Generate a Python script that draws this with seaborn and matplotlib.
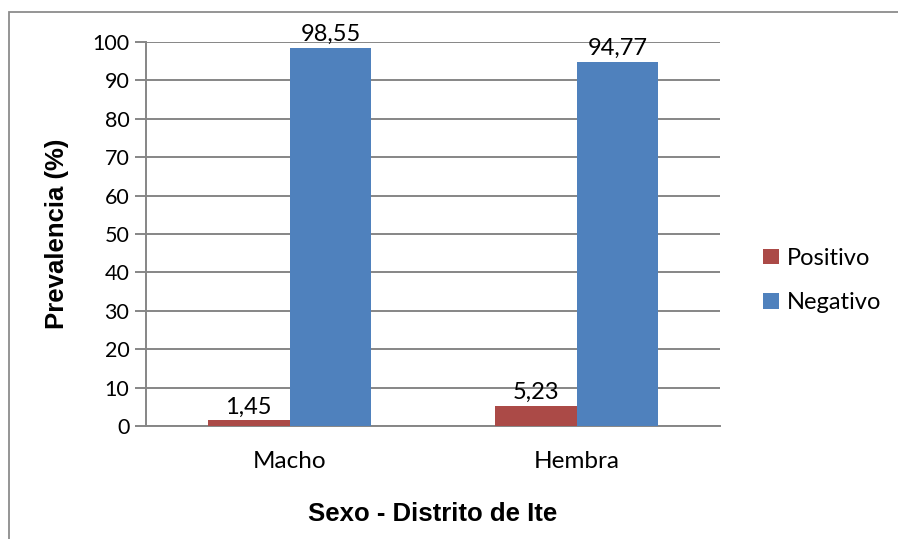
import matplotlib
matplotlib.use("Agg")
import matplotlib.pyplot as plt
import matplotlib.patches as mpatches
import seaborn as sns
import pandas as pd

# Prevalence by sex, Distrito de Ite
categories = ["Macho", "Hembra"]
series = ["Positivo", "Negativo"]
positivo = [1.45, 5.23]
negativo = [98.55, 94.77]
yticks = [0, 10, 20, 30, 40, 50, 60, 70, 80, 90, 100]

colors = {"Positivo": "#AB4A47", "Negativo": "#4F81BD"}
grid_color = "#868686"

df = pd.DataFrame({
    "Sexo": categories * 2,
    "Resultado": [series[0]] * len(categories) + [series[1]] * len(categories),
    "Prevalencia": positivo + negativo,
})

sns.set_theme(style="white")
plt.rcParams["font.family"] = ["Lato", "DejaVu Sans"]

W, H = 898, 539
fig = plt.figure(figsize=(W / 100, H / 100), dpi=100)
fig.patch.set_facecolor("white")

# outer chart frame
fig.add_artist(mpatches.Rectangle((9 / W, -0.05), 1.2, (H - 12) / H + 0.05,
                                  transform=fig.transFigure, fill=False,
                                  edgecolor="#8C8C8C", linewidth=1.3))

left, right, top, bottom = 146, 720, 42, 426
ax = fig.add_axes([left / W, (H - bottom) / H, (right - left) / W, (bottom - top) / H])

sns.barplot(data=df, x="Sexo", y="Prevalencia", hue="Resultado",
            hue_order=series, order=categories, palette=colors,
            width=0.571, gap=0, saturation=1, ax=ax, legend=True,
            edgecolor="none", linewidth=0, zorder=3)

ax.set_ylim(0, 100)
ax.set_xlim(-0.5, 1.5)
ax.set_yticks(yticks)
ax.set_yticklabels([str(t) for t in yticks])
ax.yaxis.grid(True, color=grid_color, linewidth=1.4, zorder=0)
ax.set_axisbelow(True)

for side in ["top", "right"]:
    ax.spines[side].set_visible(False)
for side in ["left", "bottom"]:
    ax.spines[side].set_color(grid_color)
    ax.spines[side].set_linewidth(1.4)

ax.tick_params(axis="y", which="both", left=True, length=8, width=1.4,
               color=grid_color, labelsize=15.5, pad=4)
ax.tick_params(axis="x", bottom=False, labelsize=17.5, pad=12)
for lbl in ax.get_yticklabels() + ax.get_xticklabels():
    lbl.set_color("black")

for cont in ax.containers:
    vals = [b.get_height() for b in cont]
    ax.bar_label(cont, labels=[f"{v:.2f}".replace(".", ",") for v in vals],
                 fontsize=17, padding=2, color="black")

label_font = ["Liberation Sans", "Arial", "DejaVu Sans"]
ax.set_ylabel("Prevalencia (%)")
ax.set_xlabel("Sexo - Distrito de Ite")
for lab in (ax.xaxis.label, ax.yaxis.label):
    lab.set_family(label_font)
    lab.set_fontsize(18.5)
    lab.set_fontweight("bold")
    lab.set_color("black")
    lab.set_verticalalignment("center")
    lab.set_horizontalalignment("center")
ax.xaxis.set_label_coords(0.5, (bottom - 514) / (bottom - top))
ax.yaxis.set_label_coords((57 - left) / (right - left), 0.5)

leg = ax.legend(loc="center left", bbox_to_anchor=(742 / W, 1 - 280.5 / H),
                bbox_transform=fig.transFigure, frameon=False,
                fontsize=17, handlelength=0.65, handleheight=0.65,
                handletextpad=0.35, labelspacing=1.0)
for t in leg.get_texts():
    t.set_color("black")

fig.savefig("out.png", dpi=100)
